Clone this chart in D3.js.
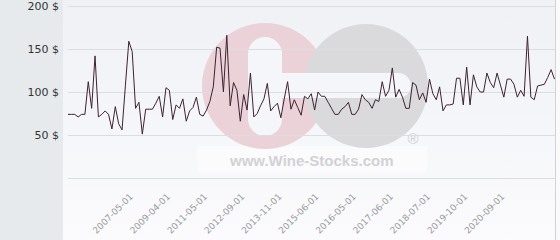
<!DOCTYPE html>
<html><head><meta charset="utf-8">
<script src="https://cdn.jsdelivr.net/npm/d3@7"></script>
<style>
html,body{margin:0;padding:0;background:#e6eaed;}
svg{display:block;}
</style></head>
<body>
<svg id="chart" width="560" height="240"></svg>
<script>
const values = [
 74, 74, 74, 71, 74, 74, 112, 81, 142, 71, 74, 78, 74, 57, 83, 63, 56, 108, 159, 147,
 81, 88, 51, 80, 80, 80, 87, 95, 71, 105, 102, 68, 85, 81, 92, 66, 78, 82, 94, 74,
 72, 79, 89, 106, 152, 151, 100, 166, 84, 111, 102, 66, 97, 79, 122, 71, 75, 84, 92, 110,
 78, 83, 87, 70, 92, 112, 80, 91, 82, 73, 95, 92, 98, 79, 100, 95, 95, 88, 81, 74,
 74, 80, 83, 88, 74, 74, 80, 97, 91, 88, 81, 91, 89, 112, 95, 102, 128, 94, 103, 94,
 81, 81, 111, 108, 91, 99, 88, 115, 98, 91, 106, 78, 85, 85, 86, 116, 116, 85, 129, 85,
 120, 106, 100, 100,
 122, 111, 105, 122, 108, 94, 115, 115, 109, 94, 102, 95, 165, 94, 91, 107, 108, 109, 117, 126, 115
];
const tickLabels = ["2007-05-01","2009-04-01","2011-05-01","2012-09-01","2013-11-01","2015-06-01","2016-05-01","2017-06-01","2018-07-01","2019-10-01","2020-09-01"];
const firstTickIndex = 18;
const tickEvery = 11;
const yTicks = [50, 100, 150, 200];
const gridTicks = [0, 50, 100, 150, 200];

const svg = d3.select("#chart");
const W = 560, H = 240;
const panelX = 63, plotL = 68, plotR = 555, yTop = 6, yBot = 178;

// backgrounds
const defs = svg.append("defs");
const grad = defs.append("linearGradient").attr("id","bg").attr("x1",0).attr("x2",0).attr("y1",0).attr("y2",1);
grad.append("stop").attr("offset","0%").attr("stop-color","#eff1f5");
grad.append("stop").attr("offset","100%").attr("stop-color","#fbfbfd");
svg.append("rect").attr("width",W).attr("height",H).attr("fill","#e6eaed");
svg.append("rect").attr("x",panelX).attr("y",0).attr("width",plotR-panelX).attr("height",H).attr("fill","url(#bg)");
svg.append("rect").attr("x",plotR+1).attr("y",0).attr("width",W-plotR-1).attr("height",H).attr("fill","#fafafa");
svg.append("line").attr("x1",plotR+0.5).attr("x2",plotR+0.5).attr("y1",0).attr("y2",H).attr("stroke","#cfd2d6");

const x = d3.scaleLinear().domain([0, values.length-1]).range([plotL, 554.5]);
const y = d3.scaleLinear().domain([0, 200]).range([yBot, yTop]);

// watermark
const wm = svg.append("g");
wm.append("rect").attr("x",197).attr("y",146).attr("width",230).attr("height",27).attr("fill","#ffffff").attr("opacity",0.45);
wm.append("circle").attr("cx",265).attr("cy",86).attr("r",63).attr("fill","#ead2d8");
wm.append("circle").attr("cx",366).attr("cy",86).attr("r",62).attr("fill","#dadadc");
wm.append("rect").attr("x",248).attr("y",37).attr("width",34).attr("height",99).attr("rx",17).attr("fill","#f5f6f9");
wm.append("rect").attr("x",265).attr("y",73).attr("width",146).attr("height",25).attr("rx",12.5).attr("fill","#f5f6f9");
wm.append("text").attr("x",230).attr("y",166).attr("font-family","Liberation Sans, Arial, sans-serif").attr("font-weight","bold").attr("font-size",15).attr("fill","#d2d2d4").text("www.Wine-Stocks.com");
wm.append("text").attr("x",413).attr("y",144).attr("text-anchor","middle").attr("font-family","Liberation Sans, Arial, sans-serif").attr("font-size",15).attr("fill","#d0d0d2").text("®");

// grid
const grid = svg.append("g").attr("transform",`translate(${plotL},0)`)
  .call(d3.axisLeft(y).tickValues(gridTicks).tickSize(-(plotR-plotL)).tickFormat(""));
grid.select(".domain").remove();
grid.selectAll("line").attr("stroke","#dcdde0").attr("stroke-width",1);

// y labels
const ya = svg.append("g").attr("transform",`translate(${panelX},0)`)
  .call(d3.axisLeft(y).tickValues(yTicks).tickSize(0).tickPadding(4).tickFormat(d => d + " $"));
ya.select(".domain").remove();
ya.selectAll("text").attr("font-family","DejaVu Sans, sans-serif").attr("font-size",11).attr("fill","#333");

// line
svg.append("path").datum(values)
  .attr("fill","none").attr("stroke","#3d2230").attr("stroke-width",1).attr("stroke-linejoin","miter")
  .attr("d", d3.line().x((d,i)=>x(i)).y(d=>y(d)));

// x labels
const tickIdx = tickLabels.map((_, k) => firstTickIndex + k*tickEvery);
const xa = svg.append("g").attr("transform",`translate(0,${yBot})`)
  .call(d3.axisBottom(x).tickValues(tickIdx).tickSize(0).tickFormat((d,i)=>tickLabels[i]));
xa.select(".domain").remove();
xa.selectAll("text")
  .attr("font-family","DejaVu Sans, sans-serif").attr("font-size",9).attr("fill","#9a9a9a")
  .attr("text-anchor","end").attr("x",0).attr("y",0).attr("dy","0.35em")
  .attr("transform","translate(2,17) rotate(-45)");
</script>
</body></html>
